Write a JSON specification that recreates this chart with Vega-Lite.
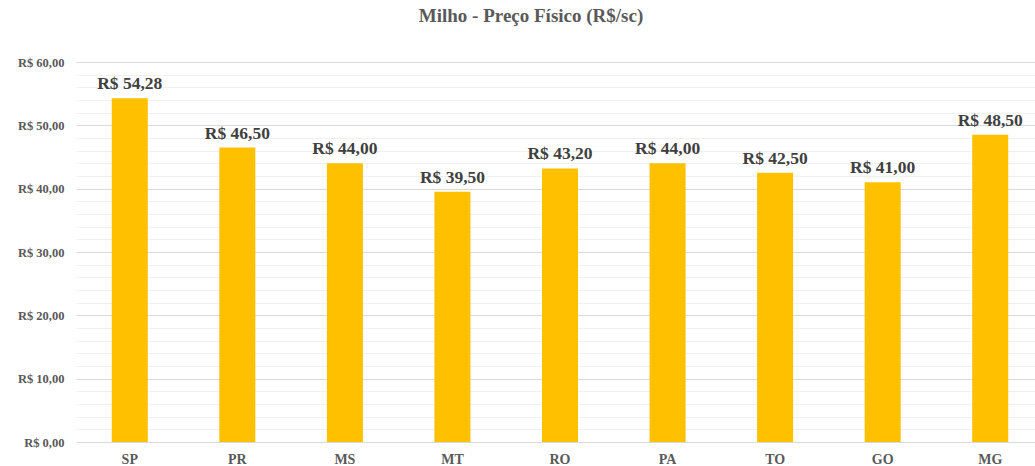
{
  "$schema": "https://vega.github.io/schema/vega-lite/v6.json",
  "autosize": {"type": "none"},
  "width": 968,
  "height": 380,
  "padding": {"left": 76, "top": 62, "right": 0, "bottom": 24},
  "background": "white",
  "title": {
    "text": "Milho - Preço Físico (R$/sc)",
    "font": "Liberation Serif",
    "fontSize": 19,
    "fontWeight": "bold",
    "color": "#595959",
    "anchor": "middle",
    "frame": "group",
    "dx": -29,
    "offset": 30
  },
  "data": {
    "values": [
      {"estado": "SP", "preco": 54.28},
      {"estado": "PR", "preco": 46.5},
      {"estado": "MS", "preco": 44.0},
      {"estado": "MT", "preco": 39.5},
      {"estado": "RO", "preco": 43.2},
      {"estado": "PA", "preco": 44.0},
      {"estado": "TO", "preco": 42.5},
      {"estado": "GO", "preco": 41.0},
      {"estado": "MG", "preco": 48.5}
    ]
  },
  "encoding": {
    "x": {
      "field": "estado",
      "type": "nominal",
      "sort": null,
      "scale": {"paddingInner": 0.665, "paddingOuter": 0.3325},
      "axis": {
        "title": null,
        "labelAngle": 0,
        "domain": false,
        "ticks": false,
        "labelPadding": 10,
        "labelFont": "Liberation Serif",
        "labelFontSize": 14,
        "labelFontWeight": "bold",
        "labelColor": "#595959"
      }
    },
    "y": {
      "field": "preco",
      "type": "quantitative",
      "scale": {"domain": [0, 60], "nice": false},
      "axis": {
        "title": null,
        "values": [0, 2, 4, 6, 8, 10, 12, 14, 16, 18, 20, 22, 24, 26, 28, 30, 32, 34, 36, 38, 40, 42, 44, 46, 48, 50, 52, 54, 56, 58, 60],
        "format": "$.2f",
        "labelExpr": "datum.value % 10 === 0 ? datum.label : ''",
        "domain": false,
        "ticks": false,
        "labelPadding": 12,
        "labelFont": "Liberation Serif",
        "labelFontSize": 12.5,
        "labelFontWeight": "bold",
        "labelColor": "#595959",
        "gridColor": {"condition": {"test": "datum.value % 10 === 0", "value": "#d9d9d9"}, "value": "#f0f0f0"},
        "gridWidth": 1
      }
    }
  },
  "layer": [
    {"mark": {"type": "bar", "color": "#FFC000"}},
    {
      "mark": {
        "type": "text",
        "baseline": "bottom",
        "dy": -5,
        "font": "Liberation Serif",
        "fontSize": 17.5,
        "fontWeight": "bold",
        "color": "#404040"
      },
      "encoding": {
        "text": {"field": "preco", "type": "quantitative", "format": "$.2f"}
      }
    }
  ],
  "config": {
    "view": {"stroke": null},
    "locale": {
      "number": {
        "decimal": ",",
        "thousands": ".",
        "grouping": [3],
        "currency": ["R$ ", ""]
      }
    }
  }
}
